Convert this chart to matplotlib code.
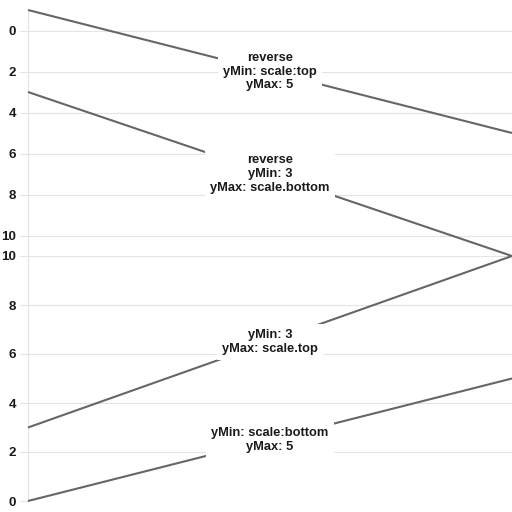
import matplotlib
matplotlib.use('Agg')
import matplotlib.pyplot as plt

# annotation lines: (axis, y start, y end, label)
top_ticks = [0, 2, 4, 6, 8, 10]
bottom_ticks = [0, 2, 4, 6, 8, 10]
top_lim = (-1, 11)      # reversed scale, tick range 0..10 with padding
bottom_lim = (0, 10)

top_starts = ['top', 3]
top_ends = [5, 'bottom']
top_labels = ['reverse\nyMin: scale:top\nyMax: 5',
              'reverse\nyMin: 3\nyMax: scale.bottom']

bottom_starts = [3, 'bottom']
bottom_ends = ['top', 5]
bottom_labels = ['yMin: 3\nyMax: scale.top',
                 'yMin: scale:bottom\nyMax: 5']

x_ends = [0, 1]

plt.rcParams['font.family'] = ['Liberation Sans', 'DejaVu Sans']

fig = plt.figure(figsize=(5.12, 5.12), dpi=100)
ax_top = fig.add_axes([28/512, 0.5, 1 - 28/512, 246/512])
ax_bot = fig.add_axes([28/512, 11/512, 1 - 28/512, 245/512])

grid_c = '#e4e4e4'
line_c = '#666666'


def resolve(v, ax):
    # scale.top / scale.bottom -> value at the pixel edge of the axis
    lo, hi = ax.get_ylim()
    if v == 'top':
        return hi
    if v == 'bottom':
        return lo
    return v


def setup(ax, ticks):
    ax.set_xlim(x_ends[0], x_ends[1])
    ax.set_yticks(ticks)
    ax.set_xticks([])
    ax.grid(axis='y', color=grid_c, lw=0.8)
    for s in ['top', 'right', 'bottom']:
        ax.spines[s].set_visible(False)
    ax.spines['left'].set_color(grid_c)
    ax.spines['left'].set_linewidth(0.8)
    ax.tick_params(axis='y', length=6, color=grid_c, width=0.8, pad=2.5,
                   labelsize=9.6, labelcolor='#1a1a1a')
    for t in ax.get_yticklabels():
        t.set_fontweight('bold')
    ax.set_facecolor('none')


ax_top.set_ylim(top_lim[1], top_lim[0])
ax_bot.set_ylim(bottom_lim[0], bottom_lim[1])
setup(ax_top, top_ticks)
setup(ax_bot, bottom_ticks)

for ax, starts, ends, labels in [(ax_top, top_starts, top_ends, top_labels),
                                 (ax_bot, bottom_starts, bottom_ends, bottom_labels)]:
    for s, e, lab in zip(starts, ends, labels):
        y0 = resolve(s, ax)
        y1 = resolve(e, ax)
        ax.plot(x_ends, [y0, y1], color=line_c, lw=1.5, zorder=3,
                solid_capstyle='butt', clip_on=False)
        ax.text((x_ends[0] + x_ends[1]) / 2, (y0 + y1) / 2, lab,
                ha='center', va='center', fontsize=9.3, fontweight='bold',
                color='#1a1a1a', linespacing=1.18, zorder=4,
                bbox=dict(boxstyle='square,pad=0.4', fc='white', ec='none'))

fig.savefig('out.png', dpi=100)
